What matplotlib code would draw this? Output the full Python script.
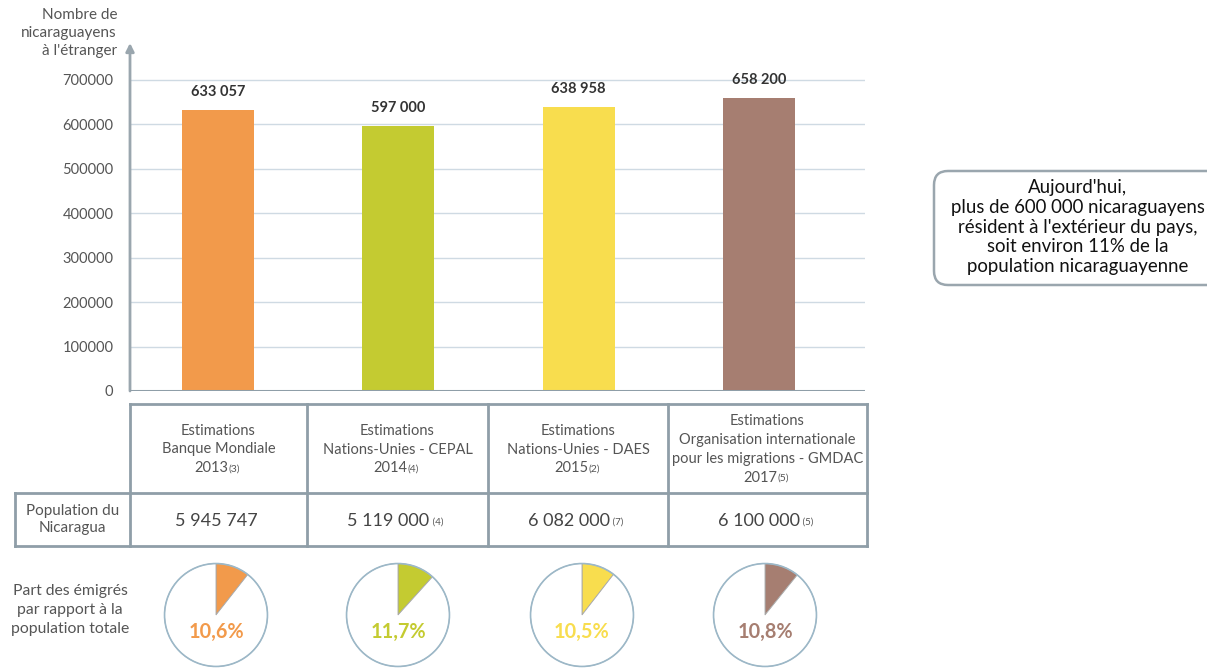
import matplotlib
matplotlib.use("Agg")
import matplotlib.pyplot as plt
from matplotlib.patches import FancyBboxPatch, Circle

plt.rcParams["font.family"] = ["Lato", "DejaVu Sans"]

# ── Data ────────────────────────────────────────────────────────────────────
sources = [
    "Estimations\nBanque Mondiale\n2013",
    "Estimations\nNations-Unies - CEPAL\n2014",
    "Estimations\nNations-Unies - DAES\n2015",
    "Estimations\nOrganisation internationale\npour les migrations - GMDAC\n2017",
]
source_refs = ["(3)", "(4)", "(2)", "(5)"]
emigrants = [633057, 597000, 638958, 658200]
population = [5945747, 5119000, 6082000, 6100000]
population_refs = ["", "(4)", "(7)", "(5)"]
shares = [10.6, 11.7, 10.5, 10.8]
colors = ["#f29a4b", "#c4cb31", "#f8dd4e", "#a67e71"]
yticks = [0, 100000, 200000, 300000, 400000, 500000, 600000, 700000]

W, H = 1207, 668
TXT = "#555555"
LINE = "#8f9ea8"


def fx(px):
    return px / W


def fy(py):
    return 1 - py / H


def fmt(v):
    return f"{v:,}".replace(",", " ")


fig = plt.figure(figsize=(W / 100, H / 100), dpi=100)
fig.patch.set_facecolor("white")

# ── Bar chart ───────────────────────────────────────────────────────────────
ax = fig.add_axes([fx(130), fy(391), fx(865) - fx(130), fy(43) - fy(391)])
xs = list(range(len(emigrants)))
ax.bar(xs, emigrants, width=0.4, color=colors, zorder=3)
for x, v in zip(xs, emigrants):
    ax.annotate(fmt(v), (x, v), xytext=(0, 8), textcoords="offset points",
                ha="center", va="bottom", fontsize=10.5, fontweight="bold",
                color="#333333")
ax.set_xlim(-0.488, 3.588)
ax.set_ylim(0, 783000)
ax.set_yticks(yticks)
ax.set_yticklabels([str(t) for t in yticks], fontsize=10.5, color=TXT)
ax.set_xticks([])
ax.tick_params(axis="y", length=0, pad=12)
ax.grid(axis="y", color="#cfdae3", linewidth=1, zorder=0)
for s in ["top", "right", "bottom", "left"]:
    ax.spines[s].set_visible(False)
ax.axhline(0, color=LINE, linewidth=2.2, zorder=4)
ax.annotate("", xy=(0, 1.0), xycoords="axes fraction", xytext=(0, 0),
            arrowprops=dict(arrowstyle="-|>", color="#9aa6ae", lw=2,
                            mutation_scale=12, shrinkA=0, shrinkB=0))
fig.text(fx(117), fy(33), "Nombre de\nnicaraguayens\nà l'étranger",
         ha="right", va="center", fontsize=11, color=TXT, linespacing=1.4)

# ── Table and annotations (pixel overlay) ──────────────────────────────────
ov = fig.add_axes([0, 0, 1, 1], zorder=-1)
ov.set_xlim(0, W)
ov.set_ylim(H, 0)
ov.axis("off")

col_edges = [130, 307, 488, 668, 867]
top, mid, bot, left = 404, 493, 546, 15
kw = dict(color=LINE, linewidth=2, solid_capstyle="projecting")
ov.plot([130, 867], [top, top], **kw)
ov.plot([left, 867], [mid, mid], **kw)
ov.plot([left, 867], [bot, bot], **kw)
ov.plot([left, left], [mid, bot], **kw)
for e in col_edges:
    ov.plot([e, e], [top, bot], **kw)

step = 18.8
for i, (src, ref) in enumerate(zip(sources, source_refs)):
    cx = (col_edges[i] + col_edges[i + 1]) / 2
    lines = src.split("\n")
    n = len(lines)
    y0 = (top + mid) / 2 + 1 - (n - 1) * step / 2
    for j, ln in enumerate(lines):
        if j == n - 1:
            t = ov.text(cx - 7, y0 + j * step, ln, ha="center", va="center",
                        fontsize=10.5, color=TXT)
            ov.annotate(ref, xy=(1, 0.12), xycoords=t, ha="left", va="bottom",
                        fontsize=7.5, color=TXT)
        else:
            ov.text(cx, y0 + j * step, ln, ha="center", va="center",
                    fontsize=10.5, color=TXT)

ov.text((left + 130) / 2, (mid + bot) / 2, "Population du\nNicaragua",
        ha="center", va="center", fontsize=11, color=TXT, linespacing=1.35)
for i, (p, ref) in enumerate(zip(population, population_refs)):
    cx = (col_edges[i] + col_edges[i + 1]) / 2
    shift = -9 if ref else -2
    t = ov.text(cx + shift, (mid + bot) / 2 + 1, fmt(p), ha="center",
                va="center", fontsize=13, color="#444444")
    if ref:
        ov.annotate(" " + ref, xy=(1, 0.1), xycoords=t, ha="left",
                    va="bottom", fontsize=7, color=TXT)

ov.text(70, 610, "Part des émigrés\npar rapport à la\npopulation totale",
        ha="center", va="center", fontsize=11.3, color=TXT, linespacing=1.45)

# Right text box
box = FancyBboxPatch((934, 171), 320, 114, boxstyle="round,pad=0,rounding_size=14",
                     facecolor="white", edgecolor="#9aa6ae", linewidth=1.8)
ov.add_patch(box)
ov.text(1078, 227, "Aujourd'hui,\nplus de 600 000 nicaraguayens\n"
        "résident à l'extérieur du pays,\nsoit environ 11% de la\n"
        "population nicaraguayenne",
        ha="center", va="center", fontsize=13.4, color="#111111",
        linespacing=1.2)

# ── Pies ────────────────────────────────────────────────────────────────────
pie_cx = [216, 398, 582, 765]
r = 53
for cx, share, c in zip(pie_cx, shares, colors):
    pa = fig.add_axes([fx(cx - r), fy(615 + r), 2 * r / W, 2 * r / H])
    pa.pie([share, 100 - share], colors=[c, "white"], startangle=90,
           counterclock=False, radius=1,
           wedgeprops=dict(edgecolor="#a8a8a8", linewidth=0.6))
    pa.add_patch(Circle((0, 0), 1, fill=False, edgecolor="#9cb8c8",
                        linewidth=1.2))
    pa.set_xlim(-1.03, 1.03)
    pa.set_ylim(-1.03, 1.03)
    pa.set_aspect("equal")
    pa.axis("off")
    pa.text(0, -0.33, f"{share:.1f}%".replace(".", ","), ha="center",
            va="center", fontsize=14.3, fontweight="bold", color=c)

fig.savefig("out.png", dpi=100)
